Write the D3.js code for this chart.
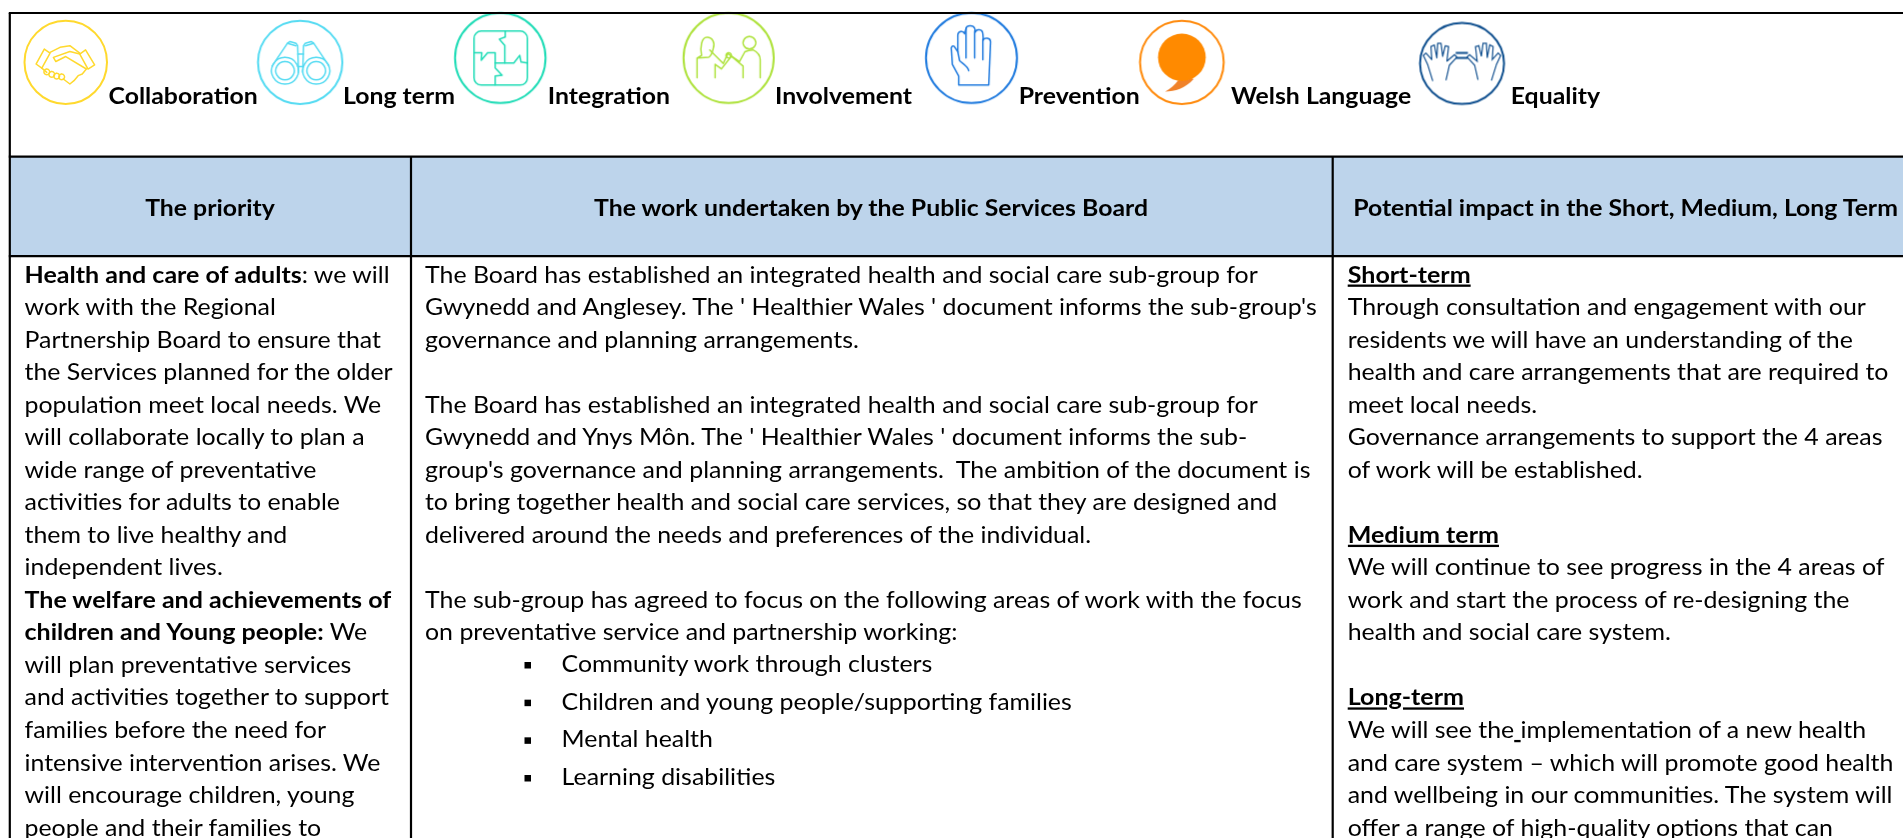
<!DOCTYPE html>
<html>
<head>
<meta charset="utf-8">
<title>Priority table</title>
<script src="https://cdn.jsdelivr.net/npm/d3@7"></script>
<style>
  html, body { margin: 0; padding: 0; background: #fff; overflow: hidden; }
  svg { display: block; }
  text { font-family: Lato, "Open Sans", sans-serif; fill: #000; white-space: pre; }
</style>
</head>
<body>
<script>
// Table of priorities with the seven "ways of working" icons along the top

// Legend labels, one for each icon
var legendLabels = ["Collaboration", "Long term", "Integration", "Involvement", "Prevention", "Welsh Language", "Equality"];
var legendColors = ["#ffd92e", "#55dbf2", "#1fdcb6", "#aee23c", "#1f7ade", "#ff8a0a", "#12508f"];

var headers = ["The priority", "The work undertaken by the Public Services Board", "Potential impact in the Short, Medium, Long Term"];

// ** = bold run, __ = underlined run, ## = bold underlined heading
var priorityLines = [
    "**Health and care of adults**: we will",
    "work with the Regional",
    "Partnership Board to ensure that",
    "the Services planned for the older",
    "population meet local needs. We",
    "will collaborate locally to plan a",
    "wide range of preventative",
    "activities for adults to enable",
    "them to live healthy and",
    "independent lives.",
    "**The welfare and achievements of**",
    "**children and Young people:** We",
    "will plan preventative services",
    "and activities together to support",
    "families before the need for",
    "intensive intervention arises. We",
    "will encourage children, young",
    "people and their families to"
];

var workLines = [
    "The Board has established an integrated health and social care sub-group for",
    "Gwynedd and Anglesey. The ' Healthier Wales ' document informs the sub-group's",
    "governance and planning arrangements.",
    "",
    "The Board has established an integrated health and social care sub-group for",
    "Gwynedd and Ynys Môn. The ' Healthier Wales ' document informs the sub-",
    "group's governance and planning arrangements.  The ambition of the document is",
    "to bring together health and social care services, so that they are designed and",
    "delivered around the needs and preferences of the individual.",
    "",
    "The sub-group has agreed to focus on the following areas of work with the focus",
    "on preventative service and partnership working:"
];

var workBullets = [
    "Community work through clusters",
    "Children and young people/supporting families",
    "Mental health",
    "Learning disabilities"
];

var impactLines = [
    "##Short-term",
    "Through consultation and engagement with our",
    "residents we will have an understanding of the",
    "health and care arrangements that are required to",
    "meet local needs.",
    "Governance arrangements to support the 4 areas",
    "of work will be established.",
    "",
    "##Medium term",
    "We will continue to see progress in the 4 areas of",
    "work and start the process of re-designing the",
    "health and social care system.",
    "",
    "##Long-term",
    "We will see the__ __implementation of a new health",
    "and care system – which will promote good health",
    "and wellbeing in our communities. The system will",
    "offer a range of high-quality options that can"
];

// Layout, kept apart from the content above
var width = 1903, height = 838;
var tableLeft = 9.8, tableTop = 13, headTop = 156.7, bodyTop = 256.2;
var colLines = [411, 1332.7];
var bodySize = 23, headSize = 23.4;

// icon bounding boxes in page pixels: left, right, top, bottom
var iconBoxes = [
    [24.5, 107, 20.7, 104],
    [258, 342.4, 20.7, 104],
    [455, 545.5, 13, 103],
    [683.5, 773.7, 13, 103],
    [926, 1017, 13, 103],
    [1140, 1223.7, 20.7, 104],
    [1420, 1504, 23, 104]
];
var legendX = [108.5, 343, 547.8, 775, 1018.7, 1231, 1510.8];

// Icon artwork in a 100x100 box, circle excluded
var handLeft = "M15,71L9,51L4,40L7,37L14,45L13,29L17,27L20,43L21,25L25,25L27,41L30,28L34,29L32,47L41,39L44,42L35,52L31,70";
var iconPaths = [
    // handshake
    ["M14,52L24,34L31,39L21,57Z", "M74,35L85,53L77,58L67,40Z",
     "M31,38L43,32L55,30L67,39", "M67,40L55,37L35,44L38,49L50,43L75,58L70,64L65,66L60,72L55,76L47,70",
     "M21,57L27,62", "M27,58a3.5,3.5 0 1,0 0.1,0", "M33,61a3.5,3.5 0 1,0 0.1,0", "M39,63a3.5,3.5 0 1,0 0.1,0", "M45,64a3.5,3.5 0 1,0 0.1,0"],
    // binoculars
    ["M32,44a16,16 0 1,0 0.1,0", "M32,49a11,11 0 1,0 0.1,0", "M69,44a16,16 0 1,0 0.1,0", "M69,49a11,11 0 1,0 0.1,0",
     "M17,54L35,27L38,25L45,27L47,30L48,62", "M84,54L66,27L63,25L56,27L54,30L53,62", "M47,40L54,40", "M47,55L54,55", "M35,27L45,30", "M66,27L56,30"],
    // puzzle
    ["M29,20H72a8,8 0 0 1 8,8V72a8,8 0 0 1 -8,8H29a8,8 0 0 1 -8,-8V28a8,8 0 0 1 8,-8Z",
     "M55.5,20V26.7L49,29L55,36V55.5H65L71.5,47L73,54.5L80,55.5",
     "M21,44H29.6L29,52.5L36,44H44.4V61L52,69L44.4,70V80", "M44.4,55.5H55"],
    // two people shaking hands
    ["M15,72V50L20,47C18,38 20,27 26,27C32,27 35,33 33,39C32,44 30,48 28,49L16,50",
     "M29,41L44,56L49,45L62,54L68,43C72,41 74,41 77,41C83,44 85,48 85,52V72",
     "M35,72V57L42,62L53,48L66,59V72", "M73,26a7,7 0 1,0 0.1,0", "M50,44a3,3 0 1,0 0.1,0"],
    // raised hand
    ["M36,80H69L71,32C71,27 64,27 63,30L62.5,23C62,17 55,18 54.5,21L53.5,17C52,13 45,13 44,17L42.5,23C41,19 35,20 35,24.5V43L31,37C29,36 27,38 28,41L29,57L36,70Z",
     "M44,17V50", "M53.5,20V50", "M62.5,29V52", "M35,43L37,53C40,56 46,59 47,64"],
    // speech mark, filled below
    [],
    // two hands and an equals sign
    [handLeft]
];

var svg = d3.select("body").append("svg")
    .attr("width", width)
    .attr("height", height);

// The reference is an upscaled screenshot, so everything is a touch soft
var soft = svg.append("defs").append("filter")
    .attr("id", "soft")
    .attr("x", "-2%").attr("y", "-20%").attr("width", "104%").attr("height", "140%");
soft.append("feGaussianBlur").attr("stdDeviation", 0.25);

// Horizontal squeeze so that Lato takes the same room as the original typeface
function measure(str, size, weight) {
    var t = svg.append("text").attr("font-size", size).attr("font-weight", weight).text(str);
    var w = t.node().getComputedTextLength();
    t.remove();
    return w;
}
var regularStretch = 833 / measure(workLines[0], bodySize, 400);
var boldStretch = 367 / measure("The welfare and achievements of", bodySize, 700);
var headStretch = 554 / measure(headers[1], headSize, 700);

function drawRun(parent, str, x, y, size, weight, stretch, underline) {
    var t = parent.append("text")
        .attr("transform", "translate(" + x + "," + y + ") scale(" + stretch + ",1)")
        .attr("font-size", size)
        .attr("font-weight", weight)
        .text(str);
    if (underline) t.attr("text-decoration", "underline");
    return t.node().getComputedTextLength() * stretch;
}

// Splits a line on its markup and draws the runs one after the other
function drawLine(parent, line, x, y) {
    if (line.indexOf("##") === 0) {
        drawRun(parent, line.slice(2), x, y, bodySize, 700, boldStretch, true);
        return;
    }
    line.split(/(\*\*.+?\*\*|__.+?__)/).forEach(function(part) {
        if (!part) return;
        if (part.indexOf("**") === 0) {
            x += drawRun(parent, part.slice(2, -2), x, y, bodySize, 700, boldStretch, false);
        } else if (part.indexOf("__") === 0) {
            x += drawRun(parent, part.slice(2, -2), x, y, bodySize, 400, regularStretch, true);
        } else {
            x += drawRun(parent, part, x, y, bodySize, 400, regularStretch, false);
        }
    });
}

// Header band
svg.append("rect")
    .attr("x", tableLeft).attr("y", headTop)
    .attr("width", width - tableLeft).attr("height", bodyTop - headTop)
    .attr("fill", "#bdd4eb");

// Icons
var iconGroup = svg.append("g").attr("class", "icons").attr("filter", "url(#soft)");
legendLabels.forEach(function(label, i) {
    var box = iconBoxes[i];
    var sx = d3.scaleLinear().domain([0, 100]).range([box[0], box[1]]);
    var sy = d3.scaleLinear().domain([0, 100]).range([box[2], box[3]]);
    var thin = label === "Equality" ? 1.2 : 1.5;
    var g = iconGroup.append("g")
        .attr("transform", "translate(" + sx(0) + "," + sy(0) + ") scale(" + (sx(1) - sx(0)) + "," + (sy(1) - sy(0)) + ")");

    g.append("ellipse")
        .attr("cx", 50).attr("cy", 50).attr("rx", 50).attr("ry", 50)
        .attr("fill", "none")
        .attr("stroke", legendColors[i])
        .attr("stroke-width", 2)
        .attr("vector-effect", "non-scaling-stroke");

    g.selectAll("path.art")
        .data(iconPaths[i])
        .enter()
        .append("path")
        .attr("class", "art")
        .attr("d", function(d) { return d; })
        .attr("fill", "none")
        .attr("stroke", legendColors[i])
        .attr("stroke-width", thin)
        .attr("stroke-linejoin", "round")
        .attr("stroke-linecap", "round")
        .attr("vector-effect", "non-scaling-stroke");

    // second hand of the equality icon is the first one mirrored, with the sign between
    if (label === "Equality") {
        g.append("path")
            .attr("d", handLeft)
            .attr("transform", "translate(100,0) scale(-1,1)")
            .attr("fill", "none")
            .attr("stroke", legendColors[i])
            .attr("stroke-width", thin)
            .attr("vector-effect", "non-scaling-stroke");
        g.append("path")
            .attr("d", "M42.5,37H57M42.5,43H57")
            .attr("fill", "none")
            .attr("stroke", legendColors[i])
            .attr("stroke-width", 2)
            .attr("vector-effect", "non-scaling-stroke");
    }

    // Welsh Language speech mark
    if (label === "Welsh Language") {
        g.append("path")
            .attr("d", "M60,68L46,71C42,77 36,82 30,85C42,85 54,81 64,70Z")
            .attr("fill", "#f0822a");
        g.append("circle")
            .attr("cx", 50).attr("cy", 44).attr("r", 28.5)
            .attr("fill", "#ff8a05");
    }
});

var textLayer = svg.append("g").attr("class", "texts").attr("filter", "url(#soft)");

// Legend labels
legendLabels.forEach(function(label, i) {
    drawRun(textLayer, label, legendX[i], 103.8, headSize, 700, headStretch, false);
});

// Column headers, centred in their cells
var headCentre = d3.scaleOrdinal().domain(headers).range([210, 871, 1625.5]);
headers.forEach(function(h) {
    var w = measure(h, headSize, 700) * headStretch;
    drawRun(textLayer, h, headCentre(h) - w / 2, 216, headSize, 700, headStretch, false);
});

// Body text, one scale for the row baselines
var lineY = d3.scaleLinear().domain([0, 17]).range([282.6, 835.6]);
var bulletY = d3.scalePoint().domain(workBullets).range([672, 785]);

priorityLines.forEach(function(line, i) { drawLine(textLayer, line, 24.5, lineY(i)); });
workLines.forEach(function(line, i) { drawLine(textLayer, line, 425, lineY(i)); });
impactLines.forEach(function(line, i) { drawLine(textLayer, line, 1347.7, lineY(i)); });
workBullets.forEach(function(b) { drawLine(textLayer, b, 561.6, bulletY(b)); });

// Square bullets
textLayer.selectAll("rect.bullet")
    .data(workBullets)
    .enter()
    .append("rect")
    .attr("class", "bullet")
    .attr("x", 524.5)
    .attr("y", function(d) { return bulletY(d) - 10; })
    .attr("width", 6.5)
    .attr("height", 6.5)
    .attr("fill", "#000");

// Rules on top of everything
var rules = svg.append("g").attr("stroke", "#000").attr("stroke-width", 2.2);
[tableTop, headTop, bodyTop].forEach(function(y) {
    rules.append("line").attr("x1", tableLeft - 1).attr("x2", width).attr("y1", y).attr("y2", y);
});
rules.append("line").attr("x1", tableLeft).attr("x2", tableLeft).attr("y1", tableTop).attr("y2", height);
colLines.forEach(function(x) {
    rules.append("line").attr("x1", x).attr("x2", x).attr("y1", headTop).attr("y2", height);
});
</script>
</body>
</html>
